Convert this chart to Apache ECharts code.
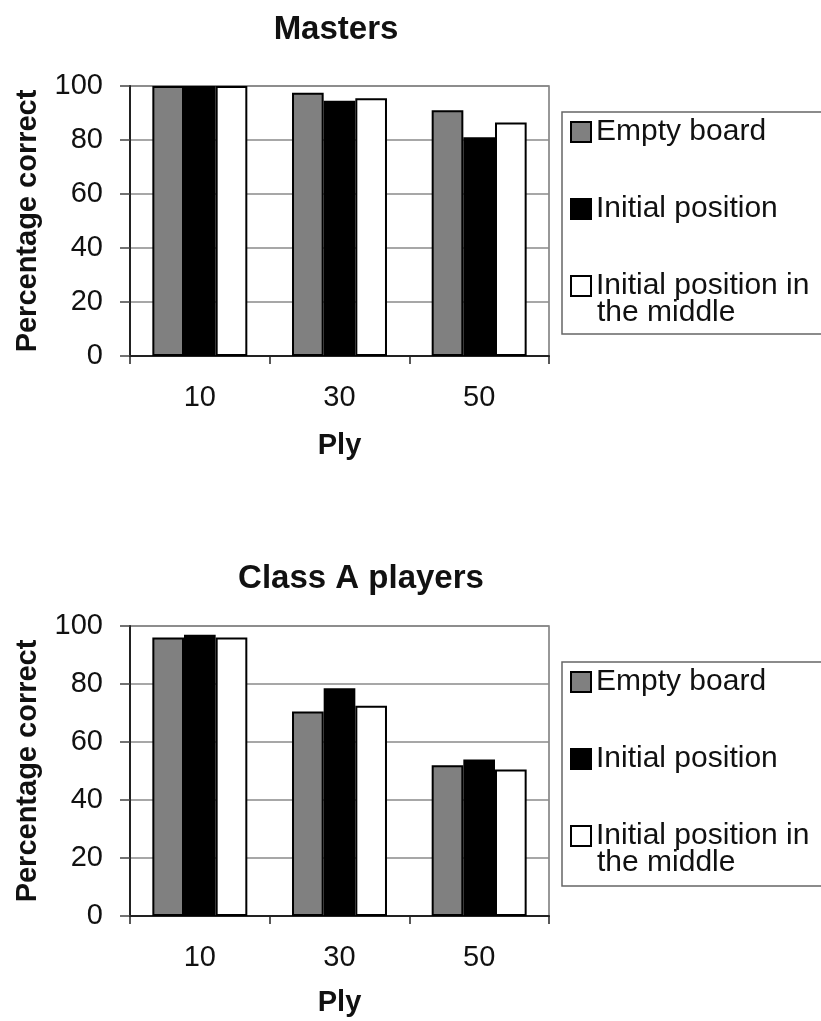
<!DOCTYPE html>
<html>
<head>
<meta charset="utf-8">
<script src="https://cdn.jsdelivr.net/npm/echarts@6/dist/echarts.min.js"></script>
<style>
  html, body { margin: 0; padding: 0; background: #fff; }
  #chart { width: 821px; height: 1021px; }
</style>
</head>
<body>
<div id="chart"></div>
<script>
const categories = ['10', '30', '50'];
const seriesNames = ['Empty board', 'Initial position', 'Initial position in\nthe middle'];
const chartTitles = ['Masters', 'Class A players'];
const mastersEmpty = [100, 97.5, 91];
const mastersInitial = [100, 94.5, 81];
const mastersMiddle = [100, 95.5, 86.5];
const classAEmpty = [96, 70.5, 52];
const classAInitial = [97, 78.5, 54];
const classAMiddle = [96, 72.5, 50.5];
const yMin = 0, yMax = 100, yStep = 20;

const FONT = 'Liberation Sans, Arial, sans-serif';
const fills = ['#808080', '#000000', '#ffffff'];

function bars(values, idx, gi) {
  return {
    type: 'bar',
    name: seriesNames[idx],
    xAxisIndex: gi,
    yAxisIndex: gi,
    data: values,
    barGap: '0%',
    barCategoryGap: '32%',
    itemStyle: { color: fills[idx], borderColor: '#000', borderWidth: 2 },
    emphasis: { disabled: true },
    animation: false
  };
}

function xAxis(gi, margin, nameGap) {
  return {
    type: 'category',
    gridIndex: gi,
    data: categories,
    name: 'Ply',
    nameLocation: 'middle',
    nameGap: nameGap,
    nameTextStyle: { fontFamily: FONT, fontWeight: 'bold', fontSize: 29, color: '#111' },
    axisLine: { lineStyle: { color: '#222', width: 2 } },
    axisTick: { show: true, length: 8, lineStyle: { color: '#222', width: 1.5 } },
    axisLabel: { fontFamily: FONT, fontSize: 29, lineHeight: 29, color: '#111', margin: margin }
  };
}

function yAxis(gi) {
  return {
    type: 'value',
    gridIndex: gi,
    min: yMin, max: yMax, interval: yStep,
    name: 'Percentage correct',
    nameLocation: 'middle',
    nameGap: 88,
    nameTextStyle: { fontFamily: FONT, fontWeight: 'bold', fontSize: 29, color: '#111' },
    axisLine: { show: true, lineStyle: { color: '#222', width: 2 } },
    axisTick: { show: true, length: 10, lineStyle: { color: '#444', width: 1.5 } },
    axisLabel: { fontFamily: FONT, fontSize: 29, color: '#111', margin: 27 },
    splitLine: { show: true, lineStyle: { color: '#8a8a8a', width: 1.5 } }
  };
}

function legend(top, gap, padBottom) {
  return {
    orient: 'vertical',
    left: 562,
    top: top,
    padding: [5, 70, padBottom, 8],
    itemGap: gap,
    itemWidth: 20,
    itemHeight: 20,
    icon: 'rect',
    borderColor: '#666',
    borderWidth: 1.5,
    selectedMode: false,
    formatter: (name) => name.split('\n')[0],
    textStyle: { fontFamily: FONT, fontSize: 30, lineHeight: 29, color: '#111' },
    data: seriesNames.map((n, i) => ({
      name: n,
      itemStyle: { color: fills[i], borderColor: '#000', borderWidth: 2 }
    }))
  };
}

const secondLine = seriesNames[2].split('\n')[1];

const chart = echarts.init(document.getElementById('chart'), null, { renderer: 'canvas' });
chart.setOption({
  backgroundColor: '#fff',
  animation: false,
  title: [
    { text: chartTitles[0], left: 331, top: 8, textAlign: 'center',
      textStyle: { fontFamily: FONT, fontWeight: 'bold', fontSize: 33, color: '#111' } },
    { text: chartTitles[1], left: 356, top: 557, textAlign: 'center',
      textStyle: { fontFamily: FONT, fontWeight: 'bold', fontSize: 33, color: '#111' } }
  ],
  legend: [legend(112, 47, 33), legend(662, 47, 35)],
  graphic: [
    { type: 'text', left: 597, top: 298, silent: true,
      style: { text: secondLine, font: '30px ' + FONT, fill: '#111' } },
    { type: 'text', left: 597, top: 848, silent: true,
      style: { text: secondLine, font: '30px ' + FONT, fill: '#111' } }
  ],
  grid: [
    { left: 130, right: 272, top: 86, height: 270, show: true, borderColor: '#777', borderWidth: 1.5, containLabel: false },
    { left: 130, right: 272, top: 626, height: 290, show: true, borderColor: '#777', borderWidth: 1.5, containLabel: false }
  ],
  xAxis: [xAxis(0, 27, 75), xAxis(1, 27, 72)],
  yAxis: [yAxis(0), yAxis(1)],
  series: [
    bars(mastersEmpty, 0, 0), bars(mastersInitial, 1, 0), bars(mastersMiddle, 2, 0),
    bars(classAEmpty, 0, 1), bars(classAInitial, 1, 1), bars(classAMiddle, 2, 1)
  ]
});
</script>
</body>
</html>
